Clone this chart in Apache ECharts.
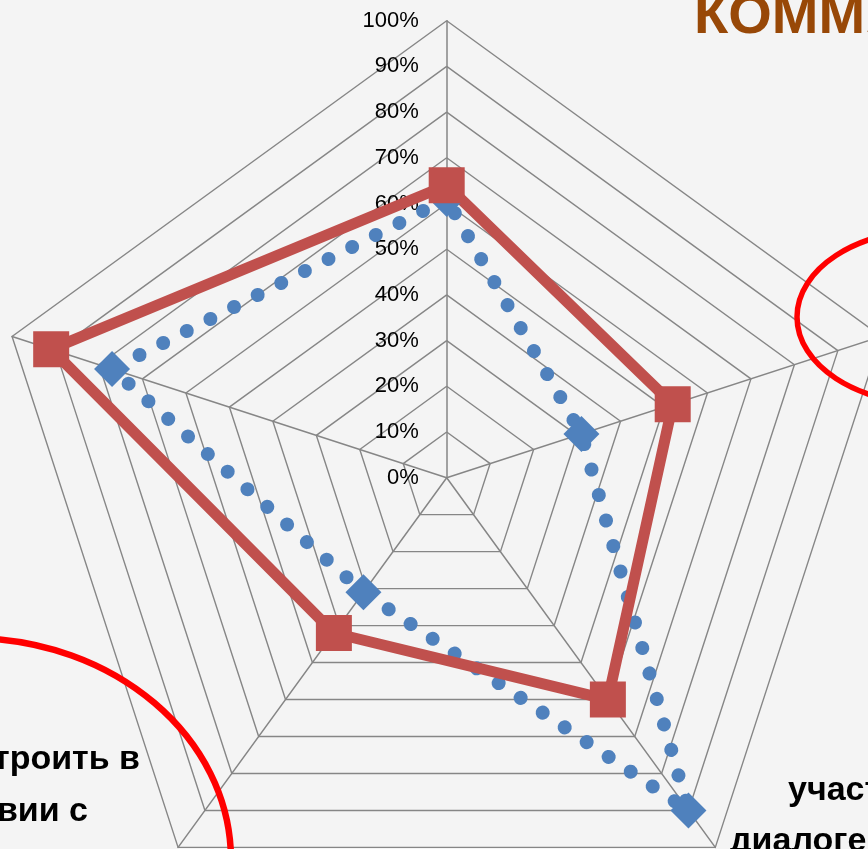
<!DOCTYPE html>
<html>
<head>
<meta charset="utf-8">
<script src="https://cdn.jsdelivr.net/npm/echarts@6/dist/echarts.min.js"></script>
<style>
html,body{margin:0;padding:0;background:#f4f4f4;}
#c{width:868px;height:849px;}
</style>
</head>
<body>
<div id="c"></div>
<script>
// Categories in ECharts (counter-clockwise) order: top, upper-left, lower-left, lower-right, upper-right
const categories = [
  'Умение слушать и понимать других',
  'Умение работать в паре и в группе',
  'Умение строить высказывание в соответствии с коммуникативной задачей',
  'Умение участвовать в диалоге с учителем и сверстниками',
  'Умение договариваться и приходить к общему решению'
];
const seriesNames = ['Входная диагностика', 'Итоговая диагностика'];
const blueValues = [61, 77, 31, 90, 31];
const redValues = [64, 91, 42, 60, 52];
const tickMax = 100;
const tickCount = 10;
const titleText = 'КОММУНИКАТИВНЫЕ УУД';
const lowerLeftLines = ['высказывание строить в', 'соответствии с', 'коммуникативной'];
const lowerRightLines = ['участвовать в', 'диалоге с учителем', 'и сверстниками'];

const chart = echarts.init(document.getElementById('c'), null, {renderer: 'canvas'});
const labelFont = '"Liberation Sans", Arial, sans-serif';

const llX = [140, 88, 162];
const llY = [777, 829, 888];
const lrX = [788, 730, 770];
const lrY = [808, 859, 910];

const graphics = [
  {type: 'text', left: 694, top: -10, z: 10,
   style: {text: titleText, fill: '#984807', font: 'bold 56px ' + labelFont}}
];
lowerLeftLines.forEach((t, i) => graphics.push({
  type: 'text', x: llX[i], y: llY[i], z: 10,
  style: {text: t, fill: '#000', font: 'bold 34px ' + labelFont, textAlign: 'right', textVerticalAlign: 'bottom'}
}));
lowerRightLines.forEach((t, i) => graphics.push({
  type: 'text', x: lrX[i], y: lrY[i], z: 10,
  style: {text: t, fill: '#000', font: 'bold 34px ' + labelFont, textAlign: 'left', textVerticalAlign: 'bottom'}
}));
graphics.push({type: 'ellipse', z: 20, shape: {cx: -30, cy: 860, rx: 261, ry: 222},
  style: {fill: 'none', stroke: '#ff0000', lineWidth: 6.5}});
graphics.push({type: 'ellipse', z: 20, shape: {cx: 930, cy: 317, rx: 133, ry: 87},
  style: {fill: 'none', stroke: '#ff0000', lineWidth: 5.5}});

chart.setOption({
  backgroundColor: '#f4f4f4',
  animation: false,
  graphic: graphics,
  radar: {
    center: [446.7, 477.7],
    radius: 457,
    startAngle: 90,
    shape: 'polygon',
    splitNumber: tickCount,
    axisName: {show: false},
    indicator: categories.map((n, i) => i === 0
      ? {name: n, min: 0, max: tickMax, axisLabel: {show: true}}
      : {name: n, min: 0, max: tickMax}),
    axisLine: {lineStyle: {color: '#868686', width: 1.5}},
    splitLine: {lineStyle: {color: '#868686', width: 1.4}},
    splitArea: {show: false},
    axisTick: {show: false},
    axisLabel: {show: false, margin: 28, color: '#000', fontSize: 22, fontFamily: labelFont,
      formatter: v => v + '%'}
  },
  series: [{
    type: 'radar',
    z: 2,
    data: [
      {name: seriesNames[0], value: blueValues,
       symbol: 'diamond', symbolSize: 36,
       itemStyle: {color: '#4f81bd', borderWidth: 0},
       lineStyle: {color: '#4f81bd', width: 14, type: [0.1, 26.4], cap: 'round'}},
      {name: seriesNames[1], value: redValues,
       symbol: 'rect', symbolSize: 36,
       itemStyle: {color: '#c0504d', borderWidth: 0},
       lineStyle: {color: '#c0504d', width: 11, type: 'solid'}}
    ]
  }]
});
</script>
</body>
</html>
